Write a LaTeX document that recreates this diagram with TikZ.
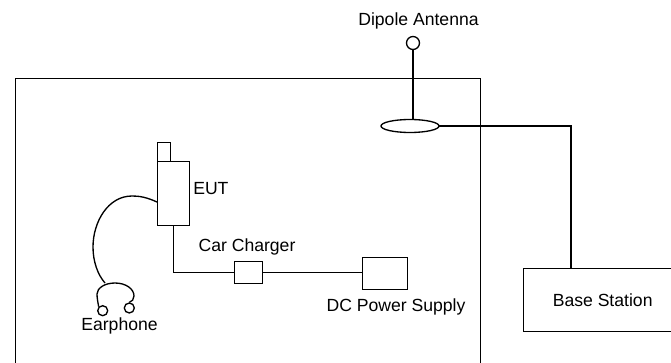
\documentclass[tikz,border=0pt]{standalone}
\usepackage{fontspec}
\setmainfont{Liberation Sans}
\tikzset{
  unit/.style={draw,line width=1pt,rectangle,anchor=north west,inner sep=0pt},
  ring/.style={draw,line width=1pt,circle,inner sep=0pt},
  wire/.style={line width=1pt},
  label/.style={font=\fontsize{13.2}{15}\selectfont,inner sep=0pt}
}
\begin{document}
\begin{tikzpicture}[x=0.75pt,y=-0.75pt]
\useasboundingbox (0,0) rectangle (671,363);
\clip (0,0) rectangle (671,363);

\node[unit,minimum width=465*0.75pt,minimum height=300*0.75pt] (room) at (15,78) {};

\node[unit,minimum width=13*0.75pt,minimum height=19*0.75pt] (stub) at (157,142) {};
\node[unit,minimum width=32*0.75pt,minimum height=64*0.75pt] (eut) at (157,161) {};
\node[unit,minimum width=28*0.75pt,minimum height=22*0.75pt] (charger) at (234,261) {};
\node[unit,minimum width=45*0.75pt,minimum height=32*0.75pt] (supply) at (362,257) {};
\node[unit,minimum width=158*0.75pt,minimum height=63*0.75pt,font=\fontsize{13.2}{15}\selectfont] (base) at (523,268) {Base Station};

\node[ring,minimum size=13*0.75pt] (dipole) at (413,43) {};
\draw[wire] (410,126) ellipse (29 and 6.5);
\coordinate (couplertop) at (413,119.5);
\coordinate (couplerend) at (439,126);
\coordinate (corner) at (571,126);

\node[ring,minimum size=10*0.75pt] (earleft) at (102.7,310.7) {};
\node[ring,minimum size=10*0.75pt] (earright) at (129.3,308) {};
\coordinate (eutport) at (157,202);
\coordinate (headband) at (105,283);

\draw[wire] (dipole.south) -- (couplertop);
\draw[wire] (couplerend) -- (corner) -- (corner |- base.north);
\draw[wire] (eut.south) |- (charger.west);
\draw[wire] (charger.east) -- (supply.west |- charger.east);
\draw[wire] (eutport) .. controls (146,197) and (139,196) .. (132,196) .. controls (108,196) and (93,222) .. (93,247) .. controls (93,262) and (98,275) .. (headband);
\draw[wire] (earleft.north west) .. controls (98,303) and (97,298) .. (97,294) .. controls (97,288) and (105,283) .. (115,283) .. controls (126,283) and (134,289) .. (134,296) .. controls (134,299) and (132,302) .. (earright.north);

\node[label] (dipolelabel) at (418.5,20.5) {Dipole Antenna};
\node[label,anchor=west] (eutlabel) at (193,189) {EUT};
\node[label] (chargerlabel) at (247,247) {Car Charger};
\node[label] (supplylabel) at (396,307) {DC Power Supply};
\node[label] (earlabel) at (119.5,326) {Earphone};
\end{tikzpicture}
\end{document}
